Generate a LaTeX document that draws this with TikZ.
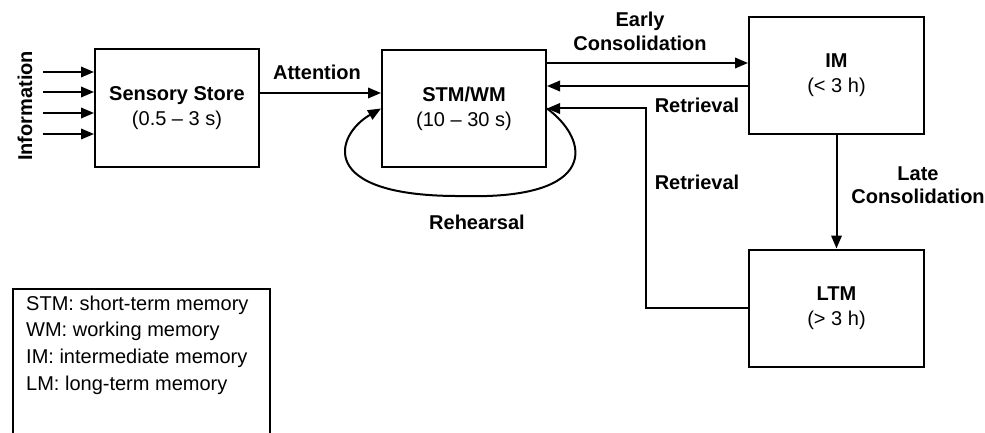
\documentclass[tikz,border=0pt]{standalone}
\usepackage{fontspec}
\setmainfont{Liberation Sans}
\usetikzlibrary{arrows.meta}

\tikzset{
  memorybox/.style={draw,rectangle,line width=2pt,align=center,
    minimum width=164pt,minimum height=117pt,font=\fontsize{20}{25}\selectfont},
  flow/.style={draw,line width=2pt,-{Triangle[length=13pt,width=10.5pt]}},
  tag/.style={align=center,font=\fontsize{20}{23.5}\selectfont\bfseries},
  keytext/.style={anchor=base west,inner sep=0pt,font=\fontsize{20}{24}\selectfont},
}

\begin{document}
\begin{tikzpicture}[x=1pt,y=1pt]

  \clip (0,0) rectangle (985,-433);

  \node [memorybox] (sensory) at (177,-108) {\textbf{Sensory Store}\\(0.5 -- 3 s)};
  \node [memorybox] (stm) at (464,-108.5) {\textbf{STM/WM}\\(10 -- 30 s)};
  \node [memorybox,minimum width=175pt] (im) at (836.5,-75.5) {\textbf{IM}\\(< 3 h)};
  \node [memorybox,minimum width=175pt] (ltm) at (836.5,-308) {\textbf{LTM}\\(> 3 h)};

  % incoming information
  \node [tag,rotate=90] (info) at (25,-106) {Information};
  \foreach \dy [count=\i] in {36,16,-5,-26} {
    \coordinate (src\i) at (43,{-108+\dy});
    \draw [flow] (src\i) -- (src\i -| sensory.west);
  }

  \coordinate (att) at ([yshift=15pt]sensory.east);
  \coordinate (early) at ([yshift=12.5pt]im.west);
  \coordinate (back) at ([yshift=-10.5pt]im.west);

  \draw [flow] (att) -- (att -| stm.west);
  \draw [flow] (early -| stm.east) -- (early);
  \draw [flow] (back) -- (back -| stm.east);
  \draw [flow] (im) -- (ltm);
  \draw [flow] (ltm.west) -- ++(-102pt,0) |- (stm.east);

  % rehearsal loop
  \draw [flow] (stm.east) .. controls (590,-140) and (600,-200) .. (462,-196)
    .. controls (315,-197) and (335,-135) .. (stm.west);

  \node [tag] (attention) at (317,-72) {Attention};
  \node [tag] (earlylab) at (640,-31.5) {Early\\Consolidation};
  \node [tag] (retr1) at (697,-105) {Retrieval};
  \node [tag] (retr2) at (697,-182) {Retrieval};
  \node [tag] (latelab) at (918,-185) {Late\\Consolidation};
  \node [tag] (rehearsal) at (477,-222) {Rehearsal};

  % abbreviations
  \node [draw,line width=1.5pt,anchor=north west,minimum width=257pt,minimum height=170pt] (legend) at (12,-288) {};
  \foreach \txt [count=\i] in {STM: short-term memory,WM: working memory,IM: intermediate memory,LM: long-term memory}
    \node [keytext] (key\i) at (26,{-310-26.7*(\i-1)}) {\txt};

\end{tikzpicture}
\end{document}
